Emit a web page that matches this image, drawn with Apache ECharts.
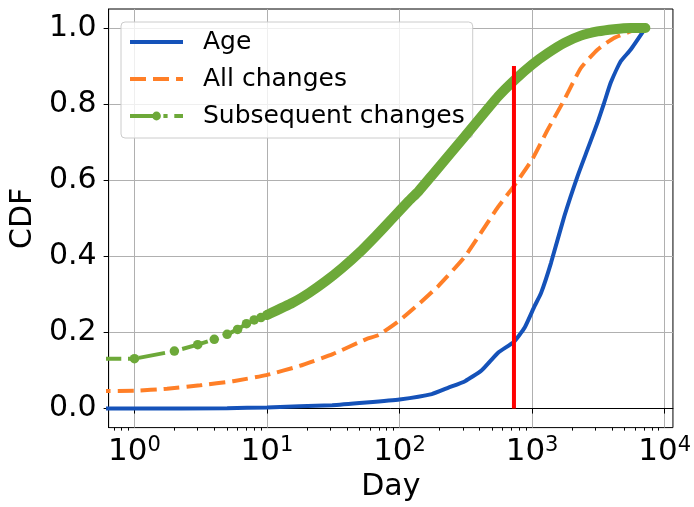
<!DOCTYPE html>
<html><head><meta charset="utf-8">
<script src="https://cdn.jsdelivr.net/npm/echarts@6/dist/echarts.min.js"></script>
<style>html,body{margin:0;padding:0;background:#fff}#c{width:694px;height:507px}</style>
</head><body><div id="c"></div>
<script>
// day 0 cannot be placed on a log axis; this stand-in lies left of the axis start and is clipped
const dayZero = 0.5;

const ageDays = [dayZero, 1, 5, 10, 31, 56, 100, 175, 234, 312, 415, 554, 727, 880, 1044, 1170, 1390, 1753, 2205, 2620, 3114, 3495, 3918, 4655, 5534, 7160];
const ageCdf  = [0, 0, 0.001, 0.003, 0.009, 0.016, 0.024, 0.038, 0.055, 0.072, 0.10, 0.147, 0.175, 0.213, 0.269, 0.304, 0.383, 0.506, 0.611, 0.681, 0.751, 0.803, 0.856, 0.912, 0.943, 1.0];

const allDays = [dayZero, 1, 1.76, 3.13, 5.55, 9.9, 17.6, 31.3, 55.6, 70, 98.5, 139, 196, 312, 554, 727, 1000, 1313, 1753, 2334, 3114, 4152, 5534, 6970];
const allCdf  = [0.046, 0.047, 0.052, 0.061, 0.072, 0.088, 0.112, 0.143, 0.182, 0.194, 0.230, 0.274, 0.322, 0.40, 0.53, 0.584, 0.654, 0.733, 0.812, 0.895, 0.943, 0.974, 0.991, 1.0];

// individual marked days at the low end
const subDaysLow = [dayZero, 1, 2, 3, 4, 5, 6, 7, 8, 9, 10];
const subCdfLow  = [0.131, 0.131, 0.151, 0.168, 0.182, 0.195, 0.208, 0.223, 0.233, 0.239, 0.246];
// where the markers crowd into a solid band
const subDaysHigh = [10, 15.6, 20.8, 27.8, 37.1, 49.5, 66, 88, 117, 139, 175, 312, 554, 740, 1000, 1313, 1753, 2334, 3114, 4152, 5534, 7160];
const subCdfHigh  = [0.246, 0.278, 0.304, 0.335, 0.370, 0.409, 0.453, 0.499, 0.545, 0.571, 0.612, 0.716, 0.82, 0.864, 0.904, 0.934, 0.961, 0.98, 0.991, 0.997, 1.0, 1.0];

const cutoffDay = 730;
const cutoffCdf = [0, 0.9];

const xMajorTicks = [1, 10, 100, 1000, 10000];
const xMinorTicks = [0.7, 0.8, 0.9, 2, 3, 4, 5, 6, 7, 8, 9, 20, 30, 40, 50, 60, 70, 80, 90,
  200, 300, 400, 500, 600, 700, 800, 900, 2000, 3000, 4000, 5000, 6000, 7000, 8000, 9000];
const yTicks = [0, 0.2, 0.4, 0.6, 0.8, 1.0];

const seriesNames = ['Age', 'All changes', 'Subsequent changes'];
const colors = {age: '#1552b9', all: '#ff7f27', sub: '#6da939', cut: '#ff0000'};

const zip = (xs, ys) => xs.map((x, i) => [x, ys[i]]);
const FONT = 'DejaVu Sans';
const xMin = 0.638, xMax = 11560;
const noMarker = {opacity: 0};

const chart = echarts.init(document.getElementById('c'), null, {renderer: 'canvas'});
chart.setOption({
  animation: false,
  backgroundColor: '#fff',
  textStyle: {fontFamily: FONT},
  grid: {left: 108, right: 18, top: 9, bottom: 79, show: true, borderColor: '#000', borderWidth: 1, backgroundColor: 'transparent'},
  legend: {
    data: [
      {name: seriesNames[0], itemStyle: noMarker},
      {name: seriesNames[1], itemStyle: noMarker},
      {name: seriesNames[2]}
    ],
    orient: 'vertical',
    left: 121, top: 22,
    padding: [6, 8, 8, 7],
    itemWidth: 53, itemHeight: 11, itemGap: 9,
    lineStyle: {width: 4},
    backgroundColor: 'rgba(255,255,255,0.8)',
    borderColor: '#cccccc', borderWidth: 1, borderRadius: 4,
    textStyle: {fontFamily: FONT, fontSize: 25, color: '#000', lineHeight: 28, padding: [0, 0, 0, 15]}
  },
  xAxis: [{
    type: 'log', logBase: 10, min: xMin, max: xMax,
    name: 'Day', nameLocation: 'middle', nameGap: 38,
    nameTextStyle: {fontFamily: FONT, fontSize: 30, color: '#000'},
    axisLine: {show: true, lineStyle: {color: '#000', width: 1}},
    axisTick: {show: true, length: 5, lineStyle: {color: '#000', width: 1}, customValues: xMajorTicks},
    axisLabel: {
      margin: 7, customValues: xMajorTicks,
      formatter: v => '{b|10}{s|' + Math.round(Math.log10(v)) + '}',
      rich: {
        b: {fontFamily: FONT, fontSize: 31, color: '#000', lineHeight: 34},
        s: {fontFamily: FONT, fontSize: 21, color: '#000', lineHeight: 20, verticalAlign: 'top'}
      }
    },
    splitLine: {show: true, lineStyle: {color: '#b0b0b0', width: 1}},
    minorTick: {show: false}
  }, {
    type: 'log', logBase: 10, min: xMin, max: xMax, position: 'bottom', gridIndex: 0,
    axisLine: {show: false},
    axisTick: {show: true, length: 3, lineStyle: {color: '#000', width: 1}, customValues: xMinorTicks},
    axisLabel: {show: false},
    splitLine: {show: false}
  }],
  yAxis: {
    type: 'value', min: -0.05, max: 1.05,
    name: 'CDF', nameLocation: 'middle', nameGap: 68,
    nameTextStyle: {fontFamily: FONT, fontSize: 30, color: '#000'},
    axisLine: {show: true, lineStyle: {color: '#000', width: 1}},
    axisTick: {show: true, length: 5, lineStyle: {color: '#000', width: 1}, customValues: yTicks},
    axisLabel: {margin: 12, customValues: yTicks, fontFamily: FONT, fontSize: 30, color: '#000',
      formatter: v => Math.abs(v).toFixed(1)},
    splitLine: {show: true, lineStyle: {color: '#b0b0b0', width: 1}}
  },
  series: [
    {name: 'Age', type: 'line', data: zip(ageDays, ageCdf), symbol: 'none', smooth: 0.15,
      lineStyle: {color: colors.age, width: 4}, itemStyle: {color: colors.age}, z: 2},
    {name: 'All changes', type: 'line', data: zip(allDays, allCdf), symbol: 'none', smooth: 0.15,
      lineStyle: {color: colors.all, width: 4, type: [16, 7]}, itemStyle: {color: colors.all}, z: 3},
    {name: 'Subsequent changes', type: 'line', data: zip(subDaysLow, subCdfLow), symbol: 'circle', symbolSize: 9.5, showSymbol: true,
      lineStyle: {color: colors.sub, width: 4, type: [26.7, 6.7, 4.2, 6.7]}, itemStyle: {color: colors.sub}, z: 4},
    {name: 'Subsequent changes', type: 'line', data: zip(subDaysHigh, subCdfHigh), symbol: 'none', smooth: 0.15,
      lineStyle: {color: colors.sub, width: 10, cap: 'round', join: 'round'}, itemStyle: {color: colors.sub}, z: 4},
    {type: 'line', data: cutoffCdf.map(c => [cutoffDay, c]), symbol: 'none',
      lineStyle: {color: colors.cut, width: 4}, itemStyle: {color: colors.cut}, z: 5, silent: true}
  ]
});
</script></body></html>
